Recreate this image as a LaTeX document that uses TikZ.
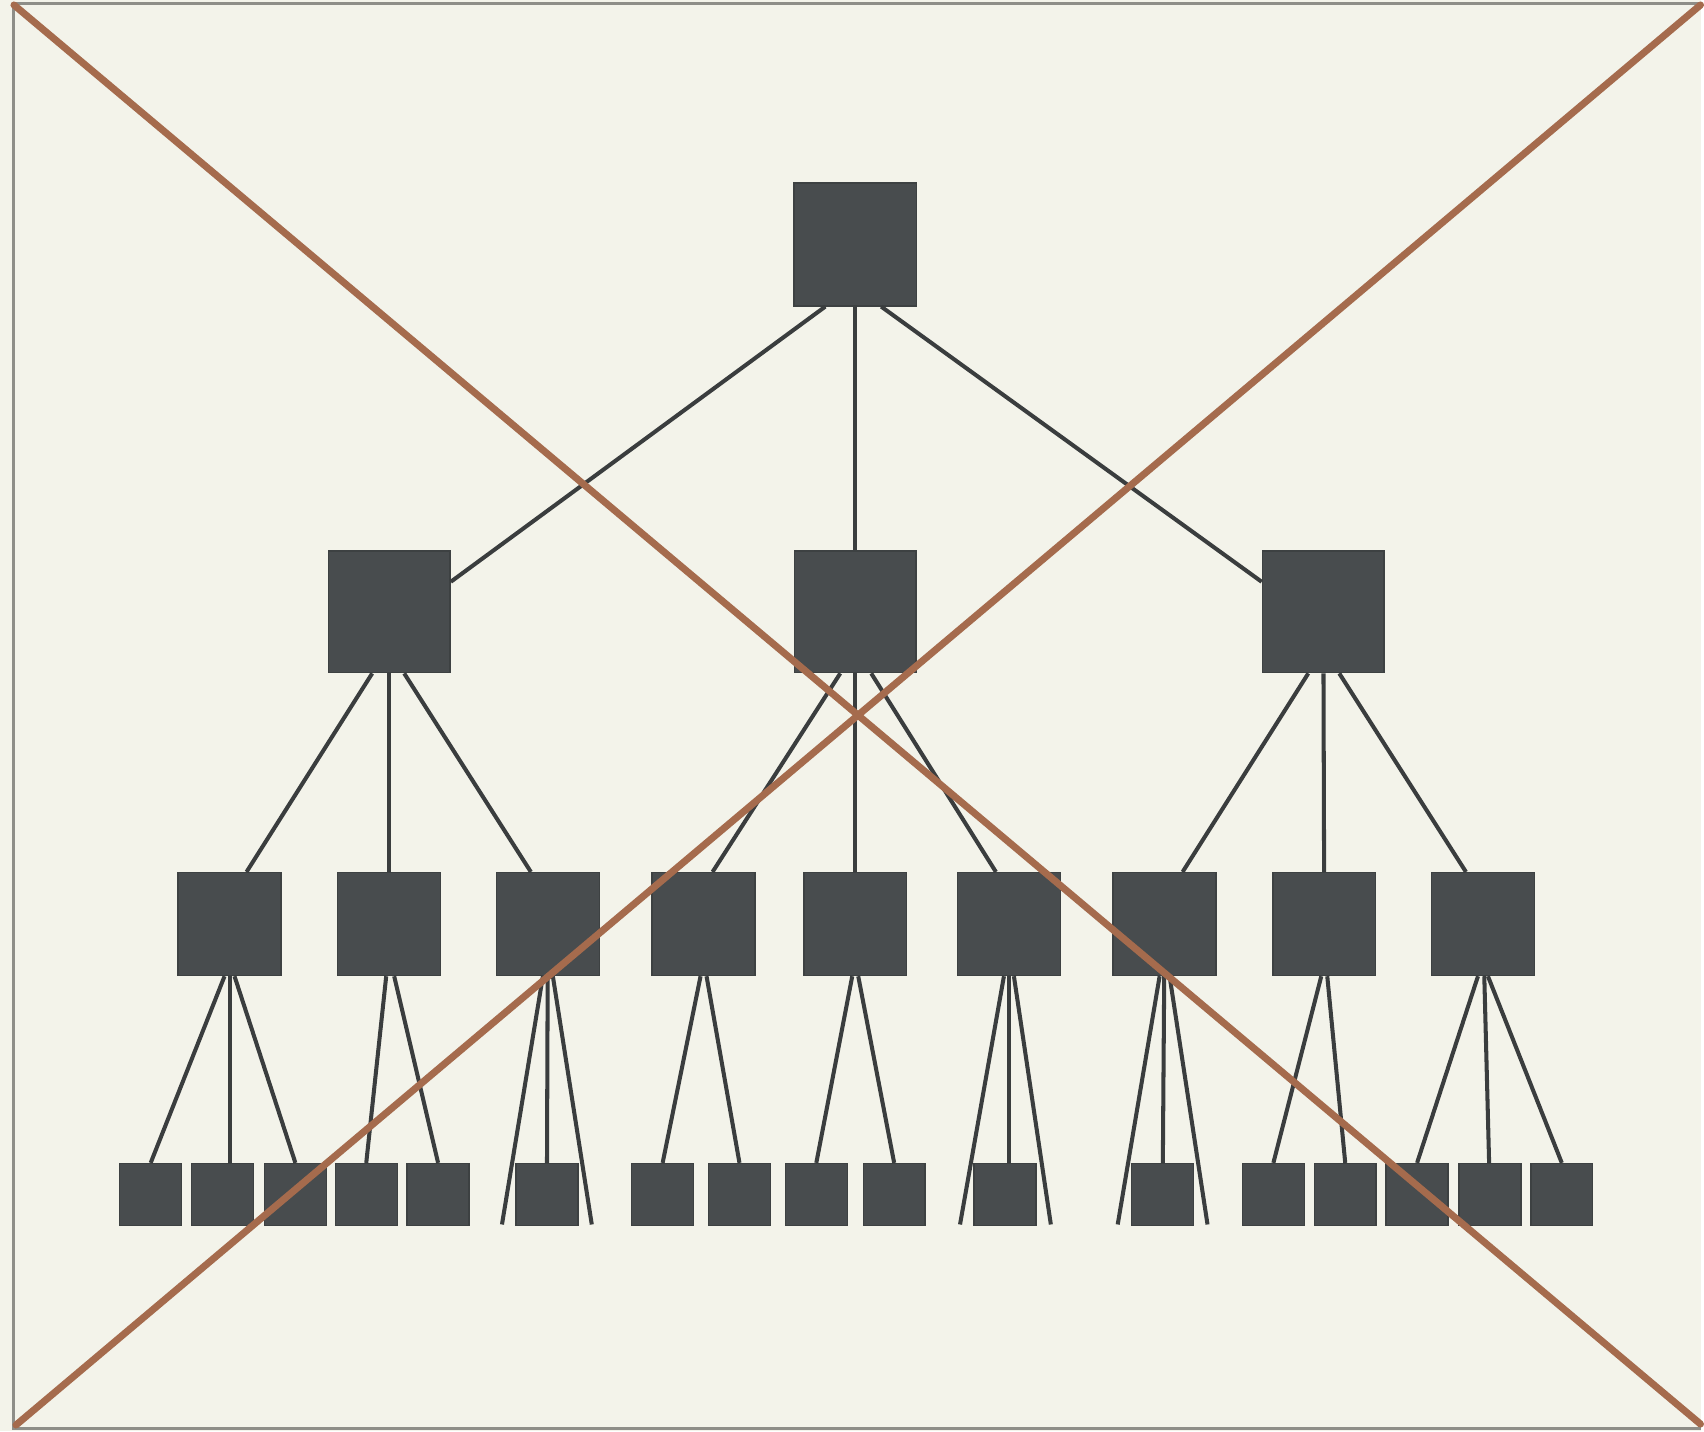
\documentclass[tikz,border=0pt]{standalone}
\usepackage{xcolor}
\usepackage{tikz}

\definecolor{paper}{HTML}{F3F3EA}
\definecolor{slate}{HTML}{484C4E}
\definecolor{wire}{HTML}{3A3D3E}
\definecolor{rust}{HTML}{A56B4D}
\definecolor{rim}{HTML}{8E8E88}

\begin{document}
\begin{tikzpicture}[
    x=0.01cm, y=-0.01cm,
    box/.style={rectangle, draw=slate!85!black, line width=0.4pt, fill=slate, inner sep=0pt},
    root/.style={box, minimum size=1.23cm},
    branch/.style={box, minimum size=1.22cm},
    twig/.style={box, minimum size=1.03cm},
    leaf/.style={box, minimum size=0.62cm},
    link/.style={draw=wire, line width=1.15pt},
    cross/.style={draw=rust, line width=2pt, line cap=round}
]

\fill[paper] (0,0) rectangle (1704,1434);
\draw[rim, line width=0.85pt] (1704,4) -- (14,4) -- (14,1431) -- (1704,1431);

\node[root] (top) at (857,245) {};

\node[branch] (b1) at (390,613) {};
\node[branch] (b2) at (857,613) {};
\node[branch] (b3) at (1326,613) {};

\node[twig] (t1) at (230,926) {};
\node[twig] (t2) at (390,926) {};
\node[twig] (t3) at (549,926) {};
\node[twig] (t4) at (705,926) {};
\node[twig] (t5) at (857,926) {};
\node[twig] (t6) at (1011,926) {};
\node[twig] (t7) at (1167,926) {};
\node[twig] (t8) at (1327,926) {};
\node[twig] (t9) at (1486,926) {};

\node[leaf] (l1) at (151,1197) {};
\node[leaf] (l2) at (223,1197) {};
\node[leaf] (l3) at (296,1197) {};
\node[leaf] (l4) at (367,1197) {};
\node[leaf] (l5) at (439,1197) {};
\node[leaf] (l6) at (548,1197) {};
\node[leaf] (l7) at (664,1197) {};
\node[leaf] (l8) at (741,1197) {};
\node[leaf] (l9) at (818,1197) {};
\node[leaf] (l10) at (896,1197) {};
\node[leaf] (l11) at (1007,1197) {};
\node[leaf] (l12) at (1165,1197) {};
\node[leaf] (l13) at (1276,1197) {};
\node[leaf] (l14) at (1348,1197) {};
\node[leaf] (l15) at (1420,1197) {};
\node[leaf] (l16) at (1493,1197) {};
\node[leaf] (l17) at (1565,1197) {};

% open ends beside the single leaves
\coordinate (loose1) at (503,1227);
\coordinate (loose2) at (593,1227);
\coordinate (loose3) at (962,1227);
\coordinate (loose4) at (1053,1227);
\coordinate (loose5) at (1120,1227);
\coordinate (loose6) at (1210,1227);

\draw[link] ([xshift=-0.30cm]top.south) -- ([yshift=0.30cm]b1.east);
\draw[link] (top) -- (b2);
\draw[link] ([xshift=0.26cm]top.south) -- ([yshift=0.30cm]b3.west);

\draw[link] ([xshift=-0.17cm]b1.south) -- ([xshift=0.17cm]t1.north);
\draw[link] (b1) -- (t2);
\draw[link] ([xshift=0.15cm]b1.south) -- ([xshift=-0.17cm]t3.north);
\draw[link] ([xshift=-0.15cm]b2.south) -- ([xshift=0.09cm]t4.north);
\draw[link] (b2) -- (t5);
\draw[link] ([xshift=0.16cm]b2.south) -- ([xshift=-0.13cm]t6.north);
\draw[link] ([xshift=-0.15cm]b3.south) -- ([xshift=0.18cm]t7.north);
\draw[link] (b3) -- (t8);
\draw[link] ([xshift=0.16cm]b3.south) -- ([xshift=-0.17cm]t9.north);

\draw[link] ([xshift=-0.05cm]t1.south) -- (l1.north);
\draw[link] (t1) -- (t1 |- l2.north);
\draw[link] ([xshift=0.05cm]t1.south) -- (l3.north);
\draw[link] ([xshift=-0.03cm]t2.south) -- (l4.north);
\draw[link] ([xshift=0.05cm]t2.south) -- (l5.north);
\draw[link] ([xshift=-0.05cm]t3.south) -- (loose1);
\draw[link] (t3) -- (l6);
\draw[link] ([xshift=0.05cm]t3.south) -- (loose2);
\draw[link] ([xshift=-0.03cm]t4.south) -- (l7.north);
\draw[link] ([xshift=0.03cm]t4.south) -- (l8.north);
\draw[link] ([xshift=-0.03cm]t5.south) -- (l9.north);
\draw[link] ([xshift=0.03cm]t5.south) -- (l10.north);
\draw[link] ([xshift=-0.05cm]t6.south) -- (loose3);
\draw[link] (t6) -- (t6 |- l11.north);
\draw[link] ([xshift=0.05cm]t6.south) -- (loose4);
\draw[link] ([xshift=-0.05cm]t7.south) -- (loose5);
\draw[link] (t7) -- (l12);
\draw[link] ([xshift=0.05cm]t7.south) -- (loose6);
\draw[link] ([xshift=-0.03cm]t8.south) -- (l13.north);
\draw[link] ([xshift=0.03cm]t8.south) -- (l14.north);
\draw[link] ([xshift=-0.05cm]t9.south) -- (l15.north);
\draw[link] (t9) -- (l16);
\draw[link] ([xshift=0.05cm]t9.south) -- (l17.north);

% the cross over everything
\coordinate (nw) at (14,5);
\coordinate (se) at (1704,1427);
\coordinate (sw) at (16,1428);
\coordinate (ne) at (1704,5);
\draw[cross] (nw) -- (se);
\draw[cross] (sw) -- (ne);

\end{tikzpicture}
\end{document}
